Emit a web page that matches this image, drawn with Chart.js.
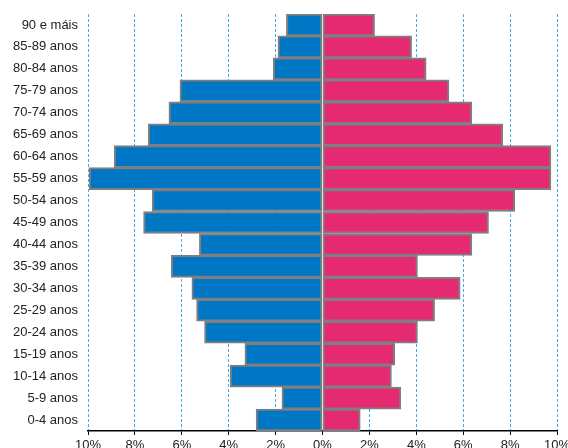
<!DOCTYPE html>
<html>
<head>
<meta charset="utf-8">
<script src="https://cdn.jsdelivr.net/npm/chart.js@4"></script>
<style>
  html, body { margin: 0; padding: 0; background: #fff; overflow: hidden; }
  #wrap { width: 568px; height: 460px; }
</style>
</head>
<body>
<div id="wrap"><canvas id="c" width="568" height="460"></canvas></div>
<script>
// Age groups, oldest at the top
const ageGroups = [
  '90 e máis', '85-89 anos', '80-84 anos', '75-79 anos', '70-74 anos',
  '65-69 anos', '60-64 anos', '55-59 anos', '50-54 anos', '45-49 anos',
  '40-44 anos', '35-39 anos', '30-34 anos', '25-29 anos', '20-24 anos',
  '15-19 anos', '10-14 anos', '5-9 anos', '0-4 anos'
];
// Share of population (%) per age group
const men = [
  1.54, 1.9, 2.1, 6.08, 6.55, 7.43, 8.88, 9.95, 7.26, 7.63,
  5.25, 6.45, 5.57, 5.37, 5.03, 3.31, 3.94, 1.73, 2.83
];
const women = [
  2.22, 3.8, 4.42, 5.39, 6.37, 7.69, 9.74, 9.74, 8.2, 7.08,
  6.37, 4.05, 5.87, 4.78, 4.05, 3.08, 2.94, 3.34, 1.61
];
const tickValues = [-10, -8, -6, -4, -2, 0, 2, 4, 6, 8, 10];

const font = { family: '"Liberation Sans", Arial, sans-serif', size: 13 };

new Chart(document.getElementById('c'), {
  type: 'bar',
  data: {
    labels: ageGroups,
    datasets: [
      {
        label: 'Homes',
        data: men.map(v => -v),
        backgroundColor: '#0077c4',
        borderColor: '#7f7f7f',
        borderWidth: 2,
        borderSkipped: false,
        categoryPercentage: 1,
        barPercentage: 1
      },
      {
        label: 'Mulleres',
        data: women,
        backgroundColor: '#e52a72',
        borderColor: '#7f7f7f',
        borderWidth: 2,
        borderSkipped: false,
        categoryPercentage: 1,
        barPercentage: 1
      }
    ]
  },
  options: {
    indexAxis: 'y',
    responsive: false,
    animation: false,
    layout: { padding: { top: 14, right: 11, left: 0, bottom: 0 } },
    plugins: { legend: { display: false }, tooltip: { enabled: false } },
    scales: {
      x: {
        stacked: true,
        min: -10,
        max: 10,
        afterBuildTicks: (scale) => { scale.ticks = tickValues.map(v => ({ value: v })); },
        afterFit: (scale) => { scale.paddingLeft = 0; scale.paddingRight = 0; scale.height = 29; },
        ticks: {
          color: '#222',
          font: font,
          padding: 3,
          maxRotation: 0,
          autoSkip: false,
          callback: (v) => Math.abs(v) + '%'
        },
        grid: {
          color: (ctx) => ctx.tick && ctx.tick.value === 0 ? 'rgba(0,0,0,0)' : '#4aa8ea',
          lineWidth: 1,
          drawTicks: true,
          tickLength: 4,
          tickColor: '#000',
          tickWidth: 1,
          tickBorderDash: []
        },
        border: { display: true, color: '#000', width: 1.5, dash: [3, 2] }
      },
      y: {
        stacked: true,
        afterFit: (scale) => { scale.width = 88; scale.paddingTop = 0; scale.paddingBottom = 0; },
        ticks: { color: '#222', font: font, padding: 10 },
        grid: { display: false, drawTicks: false },
        border: { display: false }
      }
    }
  }
});
</script>
</body>
</html>
